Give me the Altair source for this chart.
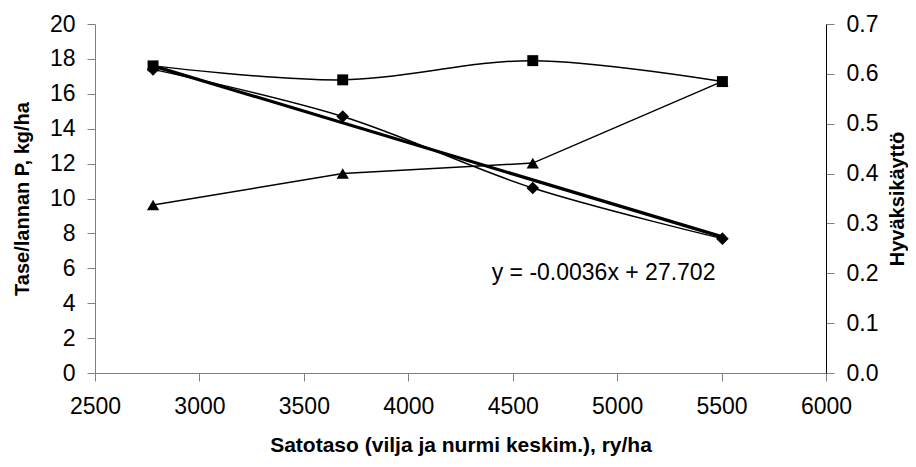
import altair as alt
import pandas as pd

x_vals = [2778, 3686, 4596, 5504]
diamond_vals = [17.4, 14.7, 10.6, 7.7]
square_vals = [17.6, 16.8, 17.9, 16.7]
triangle_vals = [0.337, 0.400, 0.421, 0.585]   # right axis (Hyväksikäyttö)
trend_x = [2778, 5504]
trend_y = [17.6, 7.8]
eq_text = ["y = -0.0036x + 27.702"]
eq_x = [4935]
eq_y = [5.75]

left_ticks = list(range(0, 21, 2))
right_ticks = [0.0, 0.1, 0.2, 0.3, 0.4, 0.5, 0.6, 0.7]
x_ticks = [2500, 3000, 3500, 4000, 4500, 5000, 5500, 6000]

FONT = "Liberation Sans"
W, H = 731, 349
LBL = 23

df_d = pd.DataFrame({"x": x_vals, "y": diamond_vals})
df_s = pd.DataFrame({"x": x_vals, "y": square_vals})
df_t = pd.DataFrame({"x": x_vals, "y": triangle_vals})
df_tr = pd.DataFrame({"x": trend_x, "y": trend_y})
df_eq = pd.DataFrame({"x": eq_x, "y": eq_y, "t": eq_text})

xscale = alt.Scale(domain=[2500, 6000], nice=False, zero=False)
xaxis = alt.Axis(values=x_ticks, format="d", grid=False, domainColor="#808080", tickColor="#808080",
                 tickSize=8, labelFontSize=LBL, labelFont=FONT, labelColor="black",
                 labelPadding=14, labelFlush=False,
                 title="Satotaso (vilja ja nurmi keskim.), ry/ha",
                 titleFont=FONT, titleFontSize=21, titleFontWeight="bold", titleColor="black",
                 titleX=W / 2, titleY=72, titleAlign="center", titleBaseline="middle")
lscale = alt.Scale(domain=[0, 20], nice=False)
laxis = alt.Axis(values=left_ticks, grid=False, domainColor="#808080", tickColor="#808080",
                 tickSize=8, labelFontSize=LBL, labelFont=FONT, labelColor="black",
                 labelPadding=12, labelFlush=False, orient="left",
                 title="Tase/lannan P, kg/ha", titleFont=FONT, titleFontSize=20,
                 titleFontWeight="bold", titleColor="black", titleAngle=270,
                 titleX=-73, titleY=H / 2, titleAlign="center", titleBaseline="middle")
rscale = alt.Scale(domain=[0, 0.7], nice=False)
raxis = alt.Axis(values=right_ticks, format=".1f", grid=False, domainColor="black",
                 tickColor="#808080", tickSize=8, labelFontSize=LBL, labelFont=FONT,
                 labelColor="black", labelPadding=12, labelFlush=False, orient="right",
                 title="Hyväksikäyttö", titleFont=FONT, titleFontSize=20,
                 titleFontWeight="bold", titleColor="black", titleAngle=270,
                 titleX=71, titleY=H / 2, titleAlign="center", titleBaseline="middle")

X = alt.X("x:Q", scale=xscale, axis=xaxis)
Yl = alt.Y("y:Q", scale=lscale, axis=laxis)
Yr = alt.Y("y:Q", scale=rscale, axis=raxis)

sq_line = alt.Chart(df_s).mark_line(color="black", strokeWidth=1.5, interpolate="catmull-rom").encode(x=X, y=Yl)
sq_pts = alt.Chart(df_s).mark_point(shape="square", size=120, filled=True, color="black", opacity=1).encode(x=X, y=Yl)
di_line = alt.Chart(df_d).mark_line(color="black", strokeWidth=1.5, interpolate="catmull-rom").encode(x=X, y=Yl)
tr_line = alt.Chart(df_tr).mark_line(color="black", strokeWidth=3.2).encode(x=X, y=Yl)
di_pts = alt.Chart(df_d).mark_point(shape="diamond", size=160, filled=True, color="black", opacity=1).encode(x=X, y=Yl)
eq = alt.Chart(df_eq).mark_text(font=FONT, fontSize=LBL, color="black", align="center", baseline="middle").encode(x=X, y=Yl, text="t:N")

tri_line = alt.Chart(df_t).mark_line(color="black", strokeWidth=1.5).encode(x=X, y=Yr)
tri_pts = alt.Chart(df_t).mark_point(shape="triangle-up", size=150, filled=True, color="black", opacity=1).encode(x=X, y=Yr)

left = alt.layer(sq_line, sq_pts, di_line, tr_line, di_pts, eq)
right = alt.layer(tri_line, tri_pts)

chart = alt.layer(left, right).resolve_scale(y="independent").properties(
    width=W, height=H,
    autosize=alt.AutoSizeParams(type="none"),
    padding={"left": 87, "top": 16, "right": 82, "bottom": 86},
    background="white",
).configure_view(stroke=None)

chart.save("out.html", embed_options={"renderer": "svg", "actions": False})
